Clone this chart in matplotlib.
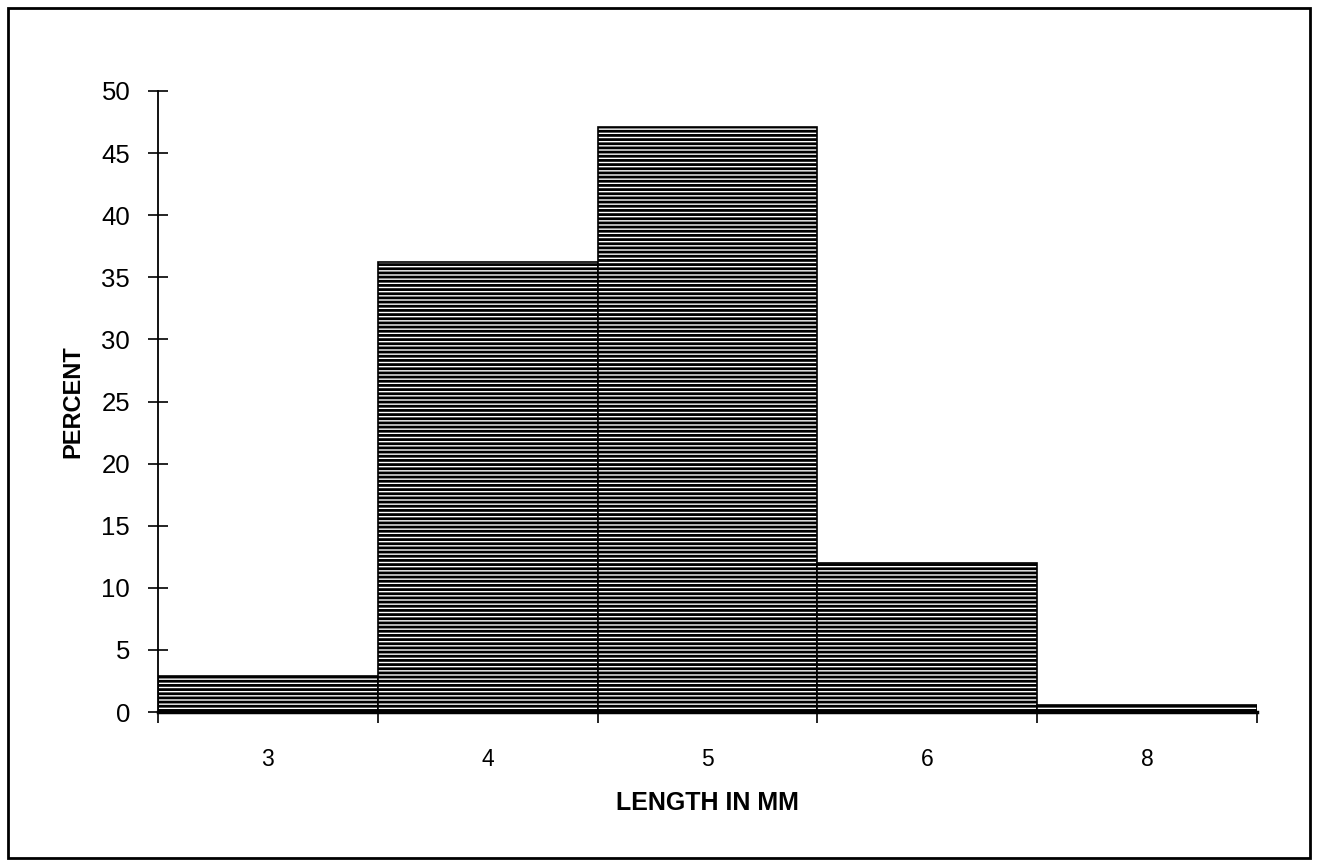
import matplotlib.pyplot as plt
from matplotlib.patches import Rectangle

# length classes (mm) and percent of specimens
lengths = ['3', '4', '5', '6', '8']
percent = [2.9, 36.2, 47.1, 12.0, 0.6]
yticks = [0, 5, 10, 15, 20, 25, 30, 35, 40, 45, 50]

plt.rcParams['font.family'] = ['Liberation Sans', 'DejaVu Sans']
plt.rcParams['hatch.linewidth'] = 2.0

fig = plt.figure(figsize=(13.23, 8.61), dpi=100)
ax = fig.add_axes([158/1323, 1 - 712/861, (1257-158)/1323, (712-91)/861])

pos = list(range(len(lengths)))
ax.bar(pos, percent, width=1.0, color='white', edgecolor='black',
       linewidth=1.2, hatch='----')

ax.set_xlim(-0.5, len(lengths) - 0.5)
ax.set_ylim(0, 50)
ax.set_yticks(yticks)
ax.set_yticklabels([str(v) for v in yticks], fontsize=18.5)

# category labels sit in the middle, ticks on bin edges
ax.set_xticks([p - 0.5 for p in pos] + [len(lengths) - 0.5])
ax.set_xticklabels([])
ax.set_xticks(pos, minor=True)
ax.set_xticklabels(lengths, minor=True, fontsize=16.5)
ax.tick_params(axis='x', which='minor', length=0, pad=26)
ax.tick_params(axis='x', which='major', direction='out', length=8, width=1.2)
ax.tick_params(axis='y', direction='inout', length=14, width=1.2, pad=13)

for s in ['top', 'right']:
    ax.spines[s].set_visible(False)
ax.spines['left'].set_linewidth(1.3)
ax.spines['bottom'].set_linewidth(2.5)

ax.set_ylabel('PERCENT', fontsize=17, fontweight='bold', labelpad=12)
ax.set_xlabel('LENGTH IN MM', fontsize=18, fontweight='bold', labelpad=14)

# outer frame around the whole chart
fig.patches.append(Rectangle((8/1323, 1 - 858/861), (1310-8)/1323, (858-8)/861,
                             transform=fig.transFigure, fill=False,
                             edgecolor='black', linewidth=2))

fig.savefig('out.png', dpi=100)
